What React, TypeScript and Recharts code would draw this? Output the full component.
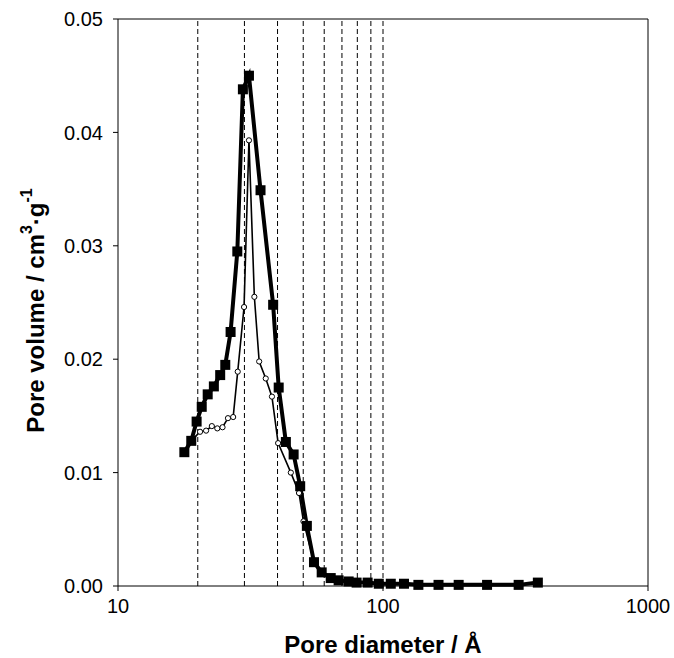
import { LineChart, Line, XAxis, YAxis, ReferenceLine, Label } from "recharts"

// thick line, filled squares
const thickDiameter = [
  17.8, 18.9, 19.8, 20.7, 21.8, 23.0, 24.3, 25.4, 26.6, 28.2, 29.6, 31.2, 34.5, 38.5, 40.4, 43.0, 46.0, 48.7,
  51.6, 54.9, 58.7, 63.5, 68.0, 74.2, 79.5, 87.5, 96.4, 107, 120, 136, 162, 193, 247, 325, 384,
]
const thickVolume = [
  0.0118, 0.0128, 0.0145, 0.0158, 0.0169, 0.0176, 0.0186, 0.0195, 0.0224, 0.0295, 0.0438, 0.045, 0.0349, 0.0248,
  0.0175, 0.0127, 0.0116, 0.0088, 0.0053, 0.0021, 0.0012, 0.0007, 0.0005, 0.0004, 0.0003, 0.0003, 0.0002, 0.0002,
  0.0002, 0.0001, 0.0001, 0.0001, 0.0001, 0.0001, 0.0003,
]

// thin line, open circles
const thinDiameter = [
  17.8, 18.9, 20.4, 21.5, 22.6, 23.7, 24.8, 26.0, 27.2, 28.3, 29.9, 31.2, 32.7, 34.1, 36.1, 38.1, 40.2, 44.9, 48.2,
  50.1, 54.9, 58.7, 63.5, 68.0, 74.2, 79.5, 87.5, 96.4, 107, 120, 136, 162, 193, 247, 325, 384,
]
const thinVolume = [
  0.0118, 0.0128, 0.0136, 0.0137, 0.0141, 0.0139, 0.014, 0.0148, 0.0149, 0.0189, 0.0246, 0.0393, 0.0255, 0.0198,
  0.0183, 0.0167, 0.0126, 0.01, 0.0082, 0.0057, 0.0021, 0.0012, 0.0007, 0.0005, 0.0004, 0.0003, 0.0003, 0.0002,
  0.0002, 0.0002, 0.0001, 0.0001, 0.0001, 0.0001, 0.0001, 0.0003,
]

const dashedLines = [20, 30, 40, 50, 60, 70, 80, 90, 100]
const xTicks = [10, 100, 1000]
const yTicks = [0, 0.01, 0.02, 0.03, 0.04, 0.05]

const thickData = thickDiameter.map((d, i) => ({ d, v: thickVolume[i] }))
const thinData = thinDiameter.map((d, i) => ({ d, v: thinVolume[i] }))

const font = "'Liberation Sans', Arial, sans-serif"

const Square = (props: any) => {
  const { cx, cy, index } = props
  return <rect key={`sq-${index}`} x={cx - 5} y={cy - 5} width={10} height={10} fill="#000" />
}

const Circle = (props: any) => {
  const { cx, cy, index } = props
  return <circle key={`ci-${index}`} cx={cx} cy={cy} r={2.6} fill="#fff" stroke="#000" strokeWidth={1} />
}

const yTitle = (props: any) => {
  const { viewBox } = props
  const cx = 35
  const cy = viewBox.y + viewBox.height / 2 + 8
  return (
    <text
      x={cx}
      y={cy}
      transform={`rotate(-90 ${cx} ${cy})`}
      textAnchor="middle"
      dominantBaseline="central"
      fontFamily={font}
      fontWeight="bold"
      fontSize={24}
      fill="#000"
    >
      Pore volume / cm
      <tspan dy={-9} fontSize={16}>3</tspan>
      <tspan dy={9}>·g</tspan>
      <tspan dy={-9} fontSize={16}>-1</tspan>
    </text>
  )
}

export default function App() {
  return (
    <div style={{ position: "absolute", left: 0, top: 0, width: 674, height: 658, background: "#fff" }}>
      <LineChart width={674} height={658} margin={{ top: 19, right: 26, bottom: 42, left: 58 }}>
        <XAxis
          dataKey="d"
          type="number"
          scale="log"
          domain={[10, 1000]}
          ticks={xTicks}
          allowDataOverflow
          height={30}
          stroke="#000"
          tickSize={5}
          tickMargin={8}
          tick={{ fill: "#000", fontSize: 20, fontFamily: font }}
        >
          <Label
            value="Pore diameter / Å"
            position="bottom"
            offset={20}
            style={{ fontFamily: font, fontWeight: "bold", fontSize: 24, fill: "#000" }}
          />
        </XAxis>
        <YAxis
          type="number"
          domain={[0, 0.05]}
          ticks={yTicks}
          width={60}
          stroke="#000"
          tickSize={5}
          tickMargin={10}
          tickFormatter={(v: number) => v.toFixed(2)}
          tick={{ fill: "#000", fontSize: 20, fontFamily: font }}
        >
          <Label content={yTitle} />
        </YAxis>
        {dashedLines.map((x) => (
          <ReferenceLine key={x} x={x} stroke="#000" strokeWidth={1} strokeDasharray="5 3" />
        ))}
        <ReferenceLine y={0.05} stroke="#000" strokeWidth={1} />
        <ReferenceLine x={1000} stroke="#000" strokeWidth={1} />
        <Line
          data={thinData}
          dataKey="v"
          stroke="#000"
          strokeWidth={1.6}
          dot={Circle}
          activeDot={false}
          isAnimationActive={false}
        />
        <Line
          data={thickData}
          dataKey="v"
          stroke="#000"
          strokeWidth={4}
          dot={Square}
          activeDot={false}
          isAnimationActive={false}
        />
      </LineChart>
    </div>
  )
}
